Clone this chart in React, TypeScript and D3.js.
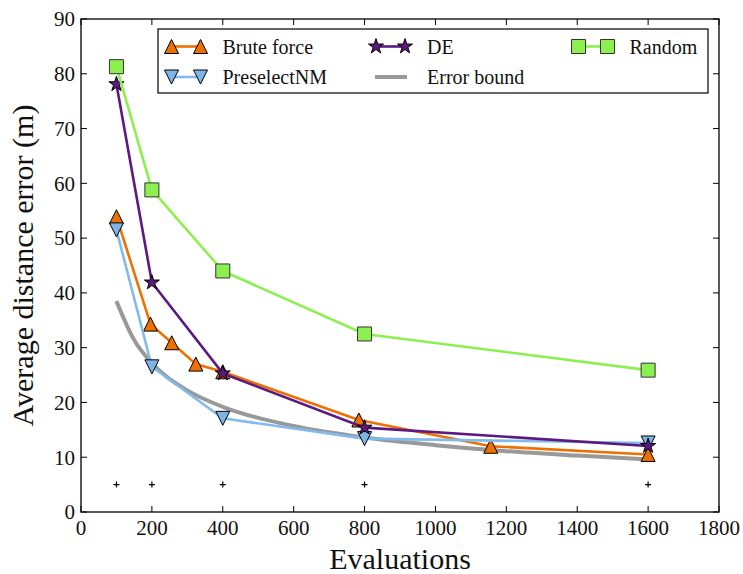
import React from "react";
import * as d3 from "d3";

// grid sizes used by the brute force search
const bruteX = [100, 196, 256, 324, 400, 784, 1156, 1600];
const bruteY = [53.9, 34.3, 30.9, 27.0, 25.6, 16.8, 12.0, 10.5];

const evalX = [100, 200, 400, 800, 1600];
const preselectY = [51.5, 26.5, 17.1, 13.4, 12.6];
const deY = [78.1, 41.9, 25.3, 15.4, 12.05];
const randomY = [81.3, 58.8, 44.0, 32.5, 25.9];

// error bound curve
const boundX = [100, 150, 200, 300, 400, 600, 800, 1000, 1200, 1400, 1600];
const boundY = [38.5, 31.4, 27.2, 22.2, 19.2, 15.7, 13.6, 12.2, 11.1, 10.3, 9.6];

const plusY = 5;
const xTicks = [0, 200, 400, 600, 800, 1000, 1200, 1400, 1600, 1800];
const yTicks = [0, 10, 20, 30, 40, 50, 60, 70, 80, 90];

const W = 743;
const H = 574;
const margin = { top: 19, right: 24, bottom: 62, left: 81 };
const FONT = "Liberation Serif, DejaVu Serif, Times, serif";

// matplotlib style isoceles triangles
const triUp = {
  draw(ctx: any, size: number) {
    const r = Math.sqrt(size) / 2;
    ctx.moveTo(0, -r);
    ctx.lineTo(-r, r);
    ctx.lineTo(r, r);
    ctx.closePath();
  },
};
const triDown = {
  draw(ctx: any, size: number) {
    const r = Math.sqrt(size) / 2;
    ctx.moveTo(0, r);
    ctx.lineTo(-r, -r);
    ctx.lineTo(r, -r);
    ctx.closePath();
  },
};

const series = [
  { name: "Brute force", xs: bruteX, ys: bruteY, color: "#EE7000", symbol: triUp, size: 196, fill: "#EE7000", stroke: "#000" },
  { name: "PreselectNM", xs: evalX, ys: preselectY, color: "#82BAEC", symbol: triDown, size: 196, fill: "#7EB4E6", stroke: "#000" },
  { name: "DE", xs: evalX, ys: deY, color: "#5C1A80", symbol: d3.symbolStar, size: 70, fill: "#5C1A80", stroke: "#000" },
  { name: "Random", xs: evalX, ys: randomY, color: "#8CF050", symbol: d3.symbolSquare, size: 196, fill: "#8CF050", stroke: "#333" },
];

export default function App() {
  const x = d3.scaleLinear().domain([0, 1800]).range([margin.left, W - margin.right]);
  const y = d3.scaleLinear().domain([0, 90]).range([H - margin.bottom, margin.top]);
  const x0 = x.range()[0];
  const x1 = x.range()[1];
  const y0 = y.range()[0];
  const y1 = y.range()[1];

  const line = d3
    .line<[number, number]>()
    .x((d) => x(d[0]))
    .y((d) => y(d[1]));
  const curve = d3
    .line<[number, number]>()
    .x((d) => x(d[0]))
    .y((d) => y(d[1]))
    .curve(d3.curveMonotoneX);

  const tick = 6;

  // legend layout: matplotlib fills columns first
  const legend = { x: 158, y: 29, w: 550, h: 64 };
  const rows = [46.5, 77];
  const cols = [171.5, 376, 578.5];
  const legendItems = [
    { col: 0, row: 0, s: series[0] },
    { col: 0, row: 1, s: series[1] },
    { col: 1, row: 0, s: series[2] },
    { col: 1, row: 1, s: null },
    { col: 2, row: 0, s: series[3] },
  ];

  return (
    <svg width={W} height={H} style={{ position: "absolute", left: 0, top: 0, background: "#fff" }}>
      <rect x={0} y={0} width={W} height={H} fill="#fff" />

      {/* error bound */}
      <path
        d={curve(boundX.map((v, i) => [v, boundY[i]] as [number, number])) || ""}
        fill="none"
        stroke="#999"
        strokeWidth={4}
      />

      {series.map((s) => {
        const pts = s.xs.map((v, i) => [v, s.ys[i]] as [number, number]);
        const sym = d3.symbol().type(s.symbol as any).size(s.size)();
        return (
          <g key={s.name}>
            <path d={line(pts) || ""} fill="none" stroke={s.color} strokeWidth={2.6} />
            {pts.map((p, i) => (
              <path
                key={i}
                d={sym || ""}
                transform={`translate(${x(p[0])},${y(p[1])})`}
                fill={s.fill}
                stroke={s.stroke}
                strokeWidth={1}
              />
            ))}
          </g>
        );
      })}

      {/* + markers */}
      {evalX.map((v) => (
        <path
          key={v}
          d={`M${x(v) - 3},${y(plusY)}h6M${x(v)},${y(plusY) - 3}v6`}
          stroke="#000"
          strokeWidth={1.2}
        />
      ))}

      {/* frame */}
      <rect x={x0} y={y1} width={x1 - x0} height={y0 - y1} fill="none" stroke="#000" strokeWidth={1.3} />

      {/* ticks, inward on all sides */}
      {xTicks.map((t) => (
        <g key={"x" + t}>
          <line x1={x(t)} x2={x(t)} y1={y0} y2={y0 - tick} stroke="#000" />
          <line x1={x(t)} x2={x(t)} y1={y1} y2={y1 + tick} stroke="#000" />
          <text x={x(t)} y={y0 + 23} textAnchor="middle" fontFamily={FONT} fontSize={21} fill="#111">
            {t}
          </text>
        </g>
      ))}
      {yTicks.map((t) => (
        <g key={"y" + t}>
          <line x1={x0} x2={x0 + tick} y1={y(t)} y2={y(t)} stroke="#000" />
          <line x1={x1} x2={x1 - tick} y1={y(t)} y2={y(t)} stroke="#000" />
          <text x={x0 - 6} y={y(t)} dy="0.35em" textAnchor="end" fontFamily={FONT} fontSize={21} fill="#111">
            {t}
          </text>
        </g>
      ))}

      {/* axis labels */}
      <text x={(x0 + x1) / 2} y={569} textAnchor="middle" fontFamily={FONT} fontSize={30} fill="#111">
        Evaluations
      </text>
      <text
        transform={`translate(33,${(y0 + y1) / 2}) rotate(-90)`}
        textAnchor="middle"
        fontFamily={FONT}
        fontSize={30}
        fill="#111"
      >
        Average distance error (m)
      </text>

      {/* legend */}
      <rect x={legend.x} y={legend.y} width={legend.w} height={legend.h} fill="#fff" stroke="#000" strokeWidth={1.2} />
      {legendItems.map((it, i) => {
        const lx = cols[it.col];
        const ly = rows[it.row];
        if (!it.s) {
          return (
            <g key={i}>
              <line x1={lx - 1} x2={lx + 31} y1={ly} y2={ly} stroke="#999" strokeWidth={4} />
              <text x={lx + 51} y={ly} dy="0.35em" fontFamily={FONT} fontSize={20} fill="#111">
                Error bound
              </text>
            </g>
          );
        }
        const s = it.s;
        const sym = d3.symbol().type(s.symbol as any).size(s.size)() || "";
        return (
          <g key={i}>
            <line x1={lx} x2={lx + 29} y1={ly} y2={ly} stroke={s.color} strokeWidth={2.6} />
            {[lx, lx + 29].map((mx) => (
              <path key={mx} d={sym} transform={`translate(${mx},${ly})`} fill={s.fill} stroke={s.stroke} strokeWidth={1} />
            ))}
            <text x={lx + 51} y={ly} dy="0.35em" fontFamily={FONT} fontSize={20} fill="#111">
              {s.name}
            </text>
          </g>
        );
      })}
    </svg>
  );
}
